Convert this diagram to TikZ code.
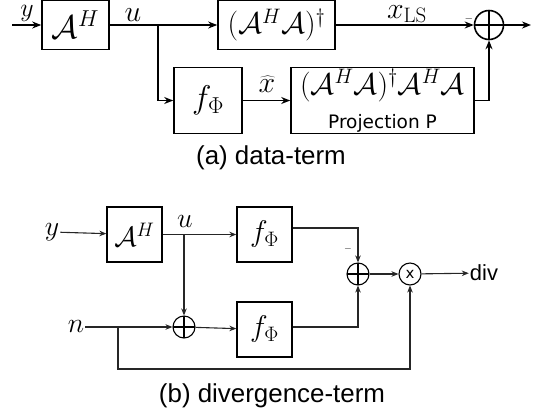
\documentclass[tikz,border=0pt]{standalone}
\usepackage{fix-cm}
\usepackage[no-math]{fontspec}
\setmainfont{Liberation Sans}
\newfontfamily\djv{DejaVu Sans}
\usetikzlibrary{arrows.meta,calc}
\tikzset{
  mth/.style={font=\fontsize{30}{36}\selectfont, inner sep=0pt},
  mthb/.style={font=\fontsize{28}{34}\selectfont, inner sep=1bp},
  blkA/.style={draw, line width=1.6bp, inner sep=0pt, font=\fontsize{30}{36}\selectfont},
  blkB/.style={draw, line width=1.3bp, inner sep=0pt, font=\fontsize{28}{34}\selectfont},
  arrA/.style={line width=1.6bp, -{Stealth[length=9bp,width=7bp]}},
  arrB/.style={line width=1.1bp, black!85, -{Stealth[length=7bp,width=5.5bp]}},
  plusA/.style={draw, circle, inner sep=0pt, line width=1.6bp, minimum size=29bp,
    path picture={\draw[line width=1.6bp] (path picture bounding box.north) -- (path picture bounding box.south)
      (path picture bounding box.west) -- (path picture bounding box.east);}},
  plusB/.style={draw, circle, inner sep=0pt, line width=1.1bp, minimum size=22bp,
    path picture={\draw[line width=1.1bp] (path picture bounding box.north) -- (path picture bounding box.south)
      (path picture bounding box.west) -- (path picture bounding box.east);}},
  timesB/.style={draw, circle, inner sep=0pt, line width=1.1bp, minimum size=22bp,
    font=\djv\fontsize{15}{18}\selectfont},
  captext/.style={font=\fontsize{26}{30}\selectfont},
}
\begin{document}
\begin{tikzpicture}[x=1bp,y=-1bp]
\useasboundingbox (0,0) rectangle (536,412);
% ---------------- (a) data-term
\coordinate (ya) at (12,25);
\node[blkA, font=\fontsize{33}{38}\selectfont, minimum width=67bp, minimum height=49bp] (A1) at (75.5,25) {$\mathcal{A}^H$};
\node[blkA, minimum width=117bp, minimum height=49bp] (B1) at (276.5,25) {$(\mathcal{A}^H\mathcal{A})^\dagger$};
\node[plusA] (S1) at (489,25) {};
\coordinate (oa) at (531,25);
\coordinate (ba) at (158,25);
\node[blkA, font=\fontsize{33}{38}\selectfont, minimum width=68bp, minimum height=66bp] (F1) at (208,100.5) {$f_\Phi$};
\node[blkA, minimum width=183bp, minimum height=66bp, align=center] (P1) at (382.5,100.5)
  {$(\mathcal{A}^H\mathcal{A})^\dagger\mathcal{A}^H\mathcal{A}$\\[-2bp]{\djv\fontsize{18.6}{22}\selectfont Projection P}};
\node[font=\fontsize{26}{30}\selectfont, inner sep=0pt] (ly) at (27,13) {$y$};
\node[mth] (lu) at (133,15.5) {$u$};
\node[mth] (lxls) at (407,14) {$x_{\mathrm{LS}}$};
\node[mth] (lxh) at (267,84) {$\widehat{x}$};
\node[font=\fontsize{11}{13}\selectfont, inner sep=0pt] (ma) at (469,19) {$-$};
\draw[arrA] (ya) -- (A1);
\draw[arrA] (A1) -- (B1);
\draw[arrA] (ba) |- (F1);
\draw[arrA] (B1) -- (S1);
\draw[arrA] (S1) -- (oa);
\draw[arrA] (F1) -- (P1);
\draw[arrA] (P1.east) -| (S1.south);
\node[captext] (capa) at (271,158) {(a) data-term};
% ---------------- (b) divergence-term
\node[mthb] (yb) at (52,232) {$y$};
\node[blkB, minimum width=55bp, minimum height=55bp] (A2) at (134.5,234.5) {$\mathcal{A}^H$};
\node[mthb] (lu2) at (185,221) {$u$};
\node[blkB, font=\fontsize{30}{36}\selectfont, minimum width=55bp, minimum height=55bp] (F2) at (264.5,234.5) {$f_\Phi$};
\node[mthb] (nb) at (76,326) {$n$};
\node[plusB] (S2) at (184,327) {};
\node[blkB, font=\fontsize{30}{36}\selectfont, minimum width=55bp, minimum height=55bp] (F3) at (264.5,329.5) {$f_\Phi$};
\node[plusB] (S3) at (358,274) {};
\node[timesB] (M) at (410,274) {x};
\node[font=\fontsize{22}{26}\selectfont, inner sep=1bp] (div) at (484,273) {div};
\node[font=\fontsize{10}{12}\selectfont, inner sep=0pt] (mb) at (348,249) {$-$};
\coordinate (bb) at (184,234.5);
\coordinate (fb) at (118,327);
\coordinate (fbl) at (118,369);
\draw[arrB] (yb) -- (A2);
\draw[arrB] (A2) -- (F2);
\draw[arrB] (bb) -- (S2);
\draw[arrB] (nb.east |- S2) -- (S2);
\draw[arrB] (S2) -- (F3);
\draw[arrB] ([yshift=6.5bp]F2.east) -| (S3.north);
\draw[arrB] ([yshift=2.5bp]F3.east) -| (S3.south);
\draw[arrB] (S3) -- (M);
\draw[arrB] (M) -- (div);
\draw[arrB] (fb) -- (fbl) -| (M.south);
\node[captext] (capb) at (272,396) {(b) divergence-term};
\end{tikzpicture}
\end{document}
